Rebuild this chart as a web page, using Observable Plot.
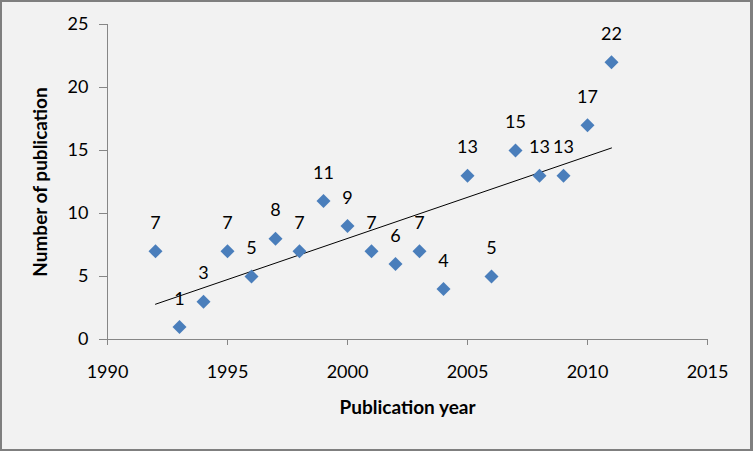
<!DOCTYPE html>
<html>
<head>
<meta charset="utf-8">
<script src="https://cdn.jsdelivr.net/npm/d3@7"></script>
<script src="https://cdn.jsdelivr.net/npm/@observablehq/plot@0.6"></script>
<style>
  html, body { margin: 0; padding: 0; background: #f2f2f2; }
  #wrap { position: relative; width: 753px; height: 451px; }
  #border { position: absolute; left: 0; top: 0; width: 753px; height: 451px; box-sizing: border-box;
            border-style: solid; border-color: #7f7f7f; border-width: 2px 3px 2px 2px; pointer-events: none; }
</style>
</head>
<body>
<div id="wrap"><div id="chart"></div><div id="border"></div></div>
<script>
const years = [1992, 1993, 1994, 1995, 1996, 1997, 1998, 1999, 2000, 2001, 2002, 2003, 2004, 2005, 2006, 2007, 2008, 2009, 2010, 2011];
const counts = [7, 1, 3, 7, 5, 8, 7, 11, 9, 7, 6, 7, 4, 13, 5, 15, 13, 13, 17, 22];
const xTicks = [1990, 1995, 2000, 2005, 2010, 2015];
const yTicks = [0, 5, 10, 15, 20, 25];
const xTitle = "Publication year";
const yTitle = "Number of publication";

const data = years.map((year, i) => ({year, count: counts[i]}));
const axisColor = "#868686";

const chart = Plot.plot({
  width: 753,
  height: 451,
  marginLeft: 107,
  marginRight: 46,
  marginTop: 24,
  marginBottom: 112,
  x: {domain: [xTicks[0], xTicks[xTicks.length - 1]]},
  y: {domain: [yTicks[0], yTicks[yTicks.length - 1]]},
  style: {background: "#f2f2f2", fontFamily: "Lato, sans-serif", fontSize: "18px", color: "#000", overflow: "visible"},
  marks: [
    Plot.ruleX([xTicks[0]], {y1: yTicks[0], y2: yTicks[yTicks.length - 1], stroke: axisColor}),
    Plot.ruleY([yTicks[0]], {x1: xTicks[0], x2: xTicks[xTicks.length - 1], stroke: axisColor}),
    Plot.axisY({ticks: yTicks, tickSize: 8, tickPadding: 11, label: null, stroke: axisColor, fill: "#000", fontSize: 18}),
    Plot.axisX({ticks: xTicks, tickSize: 6, tickPadding: 20, label: null, stroke: axisColor, fill: "#000", fontSize: 18, tickFormat: d => String(d)}),
    Plot.linearRegressionY(data, {x: "year", y: "count", stroke: "#000", strokeWidth: 1, ci: 0}),
    Plot.dot(data, {x: "year", y: "count", symbol: "diamond2", r: 6.3, fill: "#4a7ebb", stroke: "none"}),
    Plot.text(data, {x: "year", y: "count", text: d => String(d.count), dy: -28, fill: "#000", fontSize: 18}),
    Plot.text([xTitle], {frameAnchor: "bottom", textAnchor: "middle", dy: 74, text: d => d, fontWeight: "bold", fontSize: 19, fill: "#000"}),
    Plot.text([yTitle], {frameAnchor: "left", textAnchor: "middle", dx: -67, rotate: -90, text: d => d, fontWeight: "bold", fontSize: 19, fill: "#000"})
  ]
});
document.getElementById("chart").appendChild(chart);
</script>
</body>
</html>
